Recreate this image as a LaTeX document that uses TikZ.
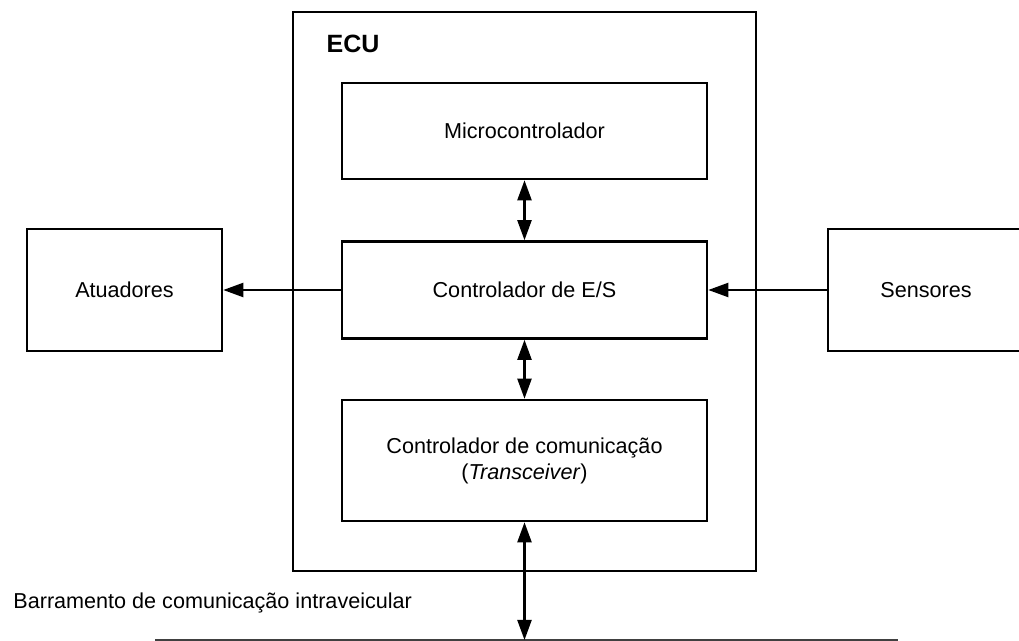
\documentclass[tikz,border=0pt]{standalone}
\usepackage{fontspec}
\setmainfont{Liberation Sans}
\usetikzlibrary{arrows.meta,positioning,calc}

\begin{document}
\begin{tikzpicture}[
    x=0.5pt, y=-0.5pt,
    blk/.style={draw, line width=1.3pt, rectangle, minimum width=182.5pt, align=center, font=\fontsize{10.8pt}{13pt}\selectfont, inner sep=0pt},
    ext/.style={draw, line width=1.3pt, rectangle, minimum width=97.5pt, minimum height=61pt, align=center, font=\fontsize{10.8pt}{13pt}\selectfont},
    arr/.style={-{Triangle[length=10pt,width=7pt]}, line width=1.1pt},
    darr/.style={{Triangle[length=10pt,width=7pt]}-{Triangle[length=10pt,width=7pt]}, line width=1.1pt},
    lbl/.style={font=\fontsize{10.8pt}{13pt}\selectfont, inner sep=0pt}
]
\useasboundingbox (0,0) rectangle (1019,641);
\node[draw, line width=1.3pt, minimum width=231.5pt, minimum height=279.5pt, inner sep=0pt] (ecu) at (524.5,291.5) {};
\node[font=\bfseries\fontsize{12.5pt}{15pt}\selectfont, inner sep=0pt] (ecutitle) at (353,44) {ECU};
\node[blk, minimum height=48pt] (micro) at (524.5,131) {Microcontrolador};
\node[blk, minimum height=48.5pt] (es) at (524.5,290) {Controlador de E/S};
\node[blk, minimum height=60.5pt] (comm) at (524.5,460.5) {Controlador de comunicação\\(\textit{Transceiver})};
\node[ext] (atu) at (124.5,290) {Atuadores};
\node[ext, minimum width=98pt] (sens) at (926,290) {Sensores};
\node[lbl, anchor=west] (buslbl) at (13,603) {Barramento de comunicação intraveicular};

\coordinate (busL) at (155,640);
\coordinate (busR) at (898,640);
\coordinate (busT) at (comm.south |- busL);

\draw[line width=0.8pt, black!75] (busL) -- (busR);
\draw[darr] (micro.south) -- (es.north);
\draw[darr] (es.south) -- (comm.north);
\draw[darr] (comm.south) -- (busT);
\draw[arr] (es.west) -- (atu.east);
\draw[arr] (sens.west) -- (es.east);
\end{tikzpicture}
\end{document}
